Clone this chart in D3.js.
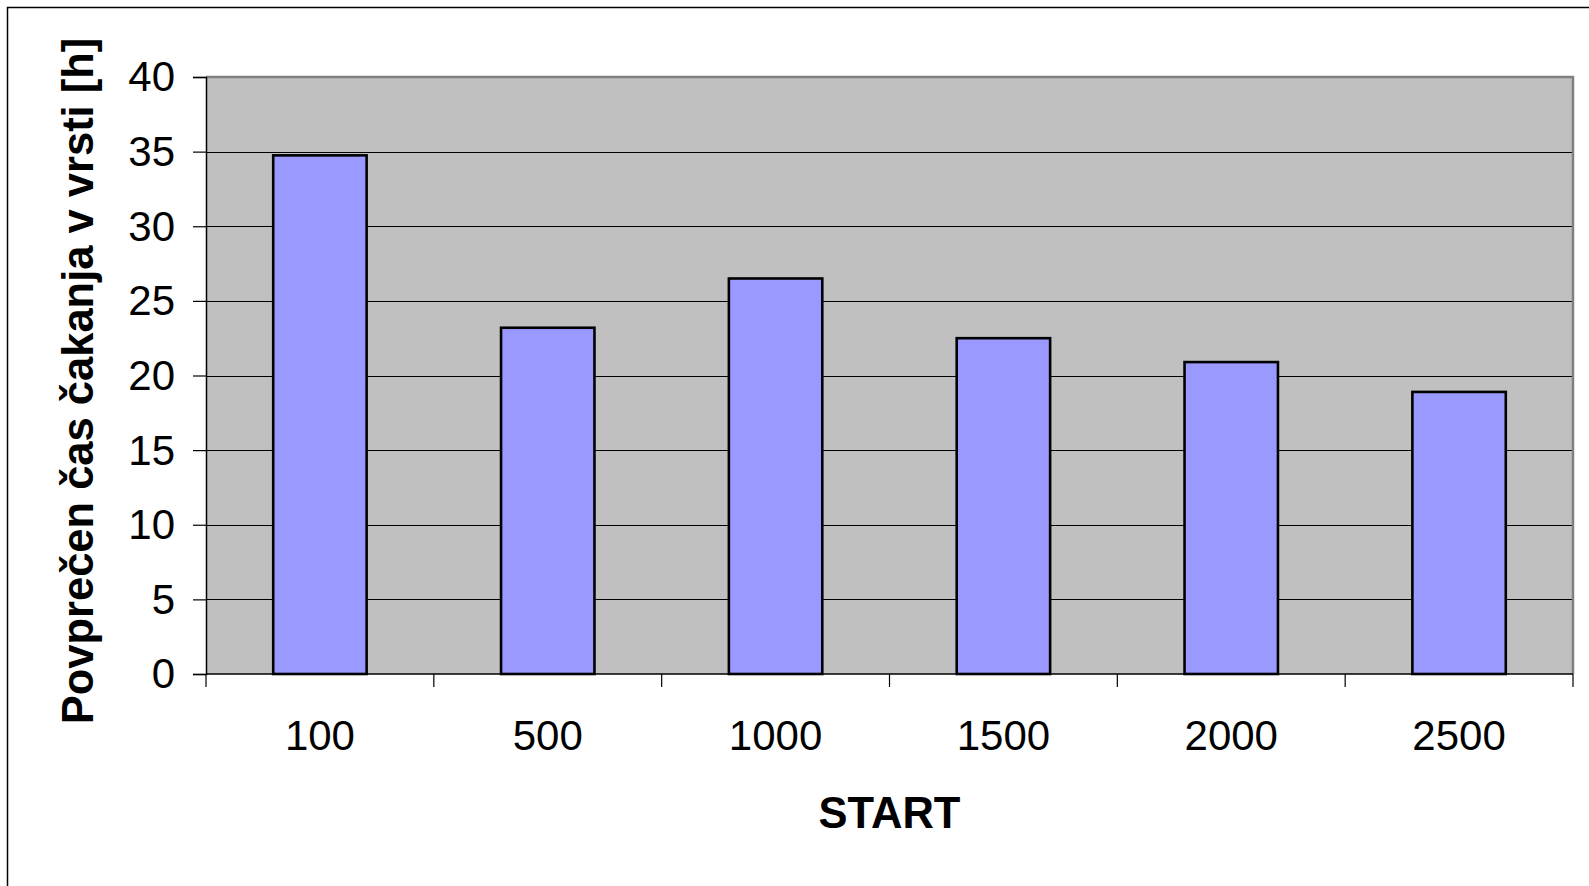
<!DOCTYPE html>
<html>
<head>
<meta charset="utf-8">
<script src="https://cdn.jsdelivr.net/npm/d3@7/dist/d3.min.js"></script>
<style>
  html, body { margin: 0; padding: 0; background: #ffffff; }
  svg { display: block; }
  text { font-family: "Liberation Sans", Arial, sans-serif; fill: #000; }
</style>
</head>
<body>
<svg id="chart" width="1589" height="886"></svg>
<script>
// Average waiting time in queue per START value
const categories = ["100", "500", "1000", "1500", "2000", "2500"];
const values = [34.75, 23.2, 26.5, 22.5, 20.9, 18.9];
const yTicks = [0, 5, 10, 15, 20, 25, 30, 35, 40];
const xTitle = "START";
const yTitle = "Povprečen čas čakanja v vrsti [h]";

const W = 1589, H = 886;
const plot = { left: 206, right: 1573, top: 77, bottom: 674 };

const svg = d3.select("#chart");

// outer frame (runs off the right and bottom edges)
svg.append("rect")
  .attr("x", 7.5).attr("y", 7.5)
  .attr("width", W).attr("height", H)
  .attr("fill", "#ffffff")
  .attr("stroke", "#000").attr("stroke-width", 1.5);

const x = d3.scaleBand()
  .domain(categories)
  .range([plot.left, plot.right])
  .padding(0);

const y = d3.scaleLinear()
  .domain([0, 40])
  .range([plot.bottom, plot.top]);

// plot background
svg.append("rect")
  .attr("x", plot.left).attr("y", plot.top)
  .attr("width", plot.right - plot.left)
  .attr("height", plot.bottom - plot.top)
  .attr("fill", "#c0c0c0");

// horizontal gridlines
svg.append("g")
  .selectAll("line")
  .data(yTicks.filter(t => t > 0 && t < 40))
  .join("line")
  .attr("x1", plot.left).attr("x2", plot.right)
  .attr("y1", d => Math.round(y(d)) + 0.5)
  .attr("y2", d => Math.round(y(d)) + 0.5)
  .attr("stroke", "#000").attr("stroke-width", 1);

// plot border (top and right)
svg.append("path")
  .attr("d", `M${plot.left},${plot.top} H${plot.right} V${plot.bottom}`)
  .attr("fill", "none")
  .attr("stroke", "#808080").attr("stroke-width", 2.5);

// bars
const bw = x.bandwidth();
svg.append("g")
  .selectAll("rect")
  .data(categories.map((c, i) => ({ c, v: values[i] })))
  .join("rect")
  .attr("x", d => x(d.c) + bw * 0.295)
  .attr("y", d => y(d.v))
  .attr("width", bw * 0.41)
  .attr("height", d => y(0) - y(d.v))
  .attr("fill", "#9999ff")
  .attr("stroke", "#000").attr("stroke-width", 2.6);

// y axis
const yAxis = d3.axisLeft(y)
  .tickValues(yTicks)
  .tickSize(13)
  .tickPadding(18)
  .tickFormat(d3.format("d"));

const gy = svg.append("g")
  .attr("transform", `translate(${plot.left},0)`)
  .call(yAxis);
gy.select(".domain").attr("stroke", "#000").attr("stroke-width", 1.5);
gy.selectAll(".tick line").attr("stroke", "#000").attr("stroke-width", 1.2);
gy.selectAll(".tick text")
  .attr("font-size", 42)
  .attr("font-family", "Liberation Sans, Arial, sans-serif")
  .attr("fill", "#000")
  .attr("dy", "0.33em");

// x axis: ticks at category boundaries, labels centred in each category
const gx = svg.append("g")
  .attr("transform", `translate(0,${plot.bottom})`);
gx.append("line")
  .attr("x1", plot.left).attr("x2", plot.right)
  .attr("y1", 0).attr("y2", 0)
  .attr("stroke", "#000").attr("stroke-width", 1.5);
const boundaries = categories.map(c => x(c)).concat([x(categories[categories.length - 1]) + bw]);
gx.selectAll("line.tick")
  .data(boundaries)
  .join("line")
  .attr("class", "tick")
  .attr("x1", d => d).attr("x2", d => d)
  .attr("y1", 0).attr("y2", 13)
  .attr("stroke", "#000").attr("stroke-width", 1.2);
gx.selectAll("text")
  .data(categories)
  .join("text")
  .attr("x", d => x(d) + bw / 2)
  .attr("y", 76)
  .attr("text-anchor", "middle")
  .attr("font-size", 42)
  .text(d => d);

// axis titles
svg.append("text")
  .attr("x", (plot.left + plot.right) / 2)
  .attr("y", 828)
  .attr("text-anchor", "middle")
  .attr("font-size", 43.5)
  .attr("font-weight", "bold")
  .text(xTitle);

svg.append("text")
  .attr("transform", `translate(92.5,381) rotate(-90)`)
  .attr("text-anchor", "middle")
  .attr("font-size", 43.5)
  .attr("font-weight", "bold")
  .text(yTitle);
</script>
</body>
</html>
